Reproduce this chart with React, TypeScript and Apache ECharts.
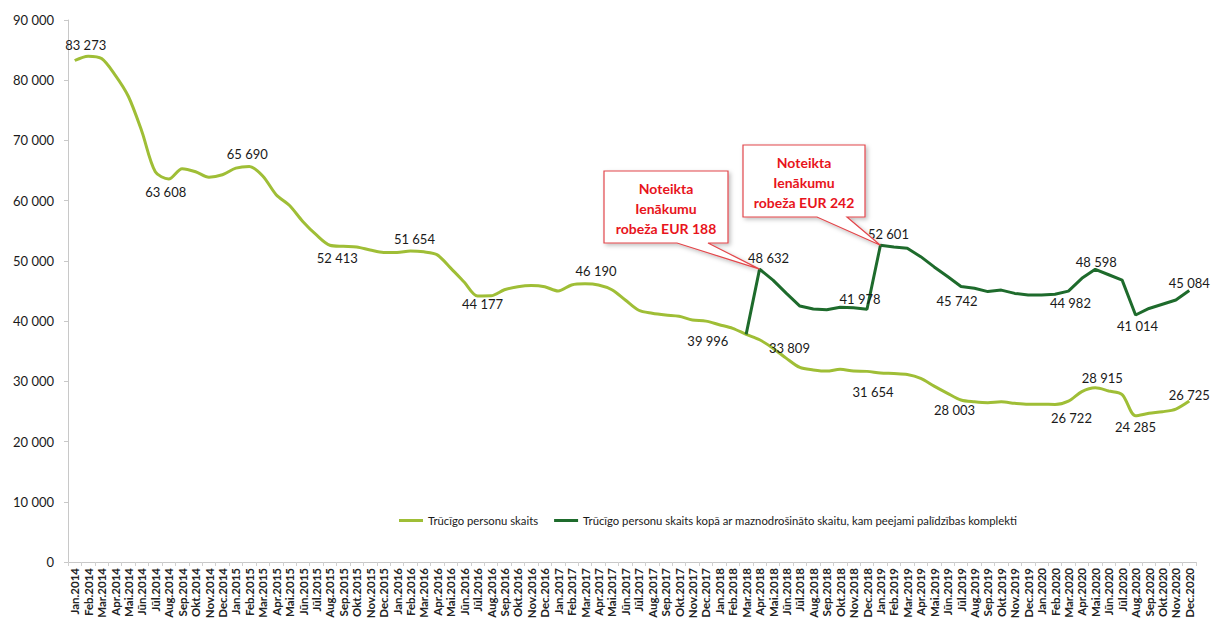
import React, { useEffect, useRef } from "react";
import * as echarts from "echarts";

const months = ["Jan", "Feb", "Mar", "Apr", "Mai", "Jūn", "Jūl", "Aug", "Sep", "Okt", "Nov", "Dec"];
const years = [2014, 2015, 2016, 2017, 2018, 2019, 2020];
const categories: string[] = years.flatMap((y) => months.map((m) => `${m}.${y}`));

const poorPersons: number[] = [
  83273, 84000, 83600, 80900, 77300, 71500, 64800, 63608, 65300, 64800, 63900, 64300,
  65400, 65690, 64100, 61000, 59200, 56500, 54300, 52600, 52413, 52300, 51800, 51400,
  51400, 51654, 51500, 51000, 48800, 46500, 44177, 44200, 45200, 45700, 45900, 45700,
  45000, 46000, 46190, 46000, 45200, 43500, 41800, 41300, 41000, 40800, 40200, 39996,
  39400, 38800, 37800, 36900, 35500, 33809, 32300, 31900, 31700, 32000, 31700, 31654,
  31400, 31300, 31150, 30500, 29200, 28003, 26900, 26600, 26450, 26600, 26350, 26200,
  26200, 26150, 26722, 28300, 28915, 28400, 27800, 24285, 24700, 24950, 25400, 26725,
];

const withLowIncome: (number | null)[] = [
  ...Array(50).fill(null),
  37800, 48632, 46800, 44600, 42500, 42000, 41900, 42300, 42200, 41978,
  52601, 52300, 52100, 50700, 49000, 47400, 45742, 45450, 44900, 45150, 44600, 44350,
  44350, 44450, 44982, 47100, 48598, 47700, 46800, 41014, 42100, 42800, 43500, 45084,
];

// [index, position, dx, dy]
const poorLabelSpots: [number, string, number, number][] = [
  [0, "top", 11, -4], [7, "bottom", -3, 2], [13, "top", -2, -1], [20, "bottom", -6, 0],
  [25, "top", 4, 0], [30, "bottom", 5, -3], [38, "top", 11, -1], [47, "bottom", 2, 8],
  [53, "top", 3, 1], [59, "bottom", 6, 9], [65, "bottom", 7, 5], [74, "bottom", 3, 5],
  [76, "top", 7, 2], [79, "bottom", 0, 0], [83, "top", 0, 5],
];
const lowIncomeLabelSpots: [number, string, number, number][] = [
  [51, "top", 9, 0], [59, "top", -7, 1], [60, "top", 8, 0], [66, "bottom", -4, 3],
  [74, "bottom", 2, 0], [76, "top", 1, 4], [79, "bottom", 2, -1], [83, "top", 0, 4],
];

const seriesNames = [
  "Trūcīgo personu skaits",
  "Trūcīgo personu skaits kopā ar maznodrošināto skaitu, kam peejami palīdzības komplekti",
];

const callouts = [
  { text: "Noteikta\nIenākumu\nrobeža EUR 188", box: [604, 171, 728, 243], base: [677, 708], index: 51 },
  { text: "Noteikta\nIenākumu\nrobeža EUR 242", box: [743, 145, 865, 217], base: [817, 847], index: 60 },
];

const fmt = (v: number) => String(Math.round(v)).replace(/\B(?=(\d{3})+(?!\d))/g, " ");
const FONT = "Lato, 'Open Sans', sans-serif";

function withLabels(values: (number | null)[], spots: [number, string, number, number][]) {
  return values.map((v, i) => {
    const s = spots.find((p) => p[0] === i);
    if (!s || v == null) return v;
    return {
      value: v,
      label: {
        show: true,
        position: s[1],
        offset: [s[2], s[3]],
        formatter: fmt(v),
        fontSize: 13,
        color: "#1a1a1a",
        fontFamily: FONT,
      },
    };
  });
}

export default function App() {
  const ref = useRef<HTMLDivElement>(null);
  useEffect(() => {
    if (!ref.current) return;
    const chart = echarts.init(ref.current, undefined, { renderer: "svg" });
    chart.setOption({
      animation: false,
      backgroundColor: "#ffffff",
      textStyle: { fontFamily: FONT },
      grid: { left: 68, right: 19, top: 20, bottom: 67 },
      legend: {
        left: 394,
        top: 510,
        icon: "rect",
        itemWidth: 24,
        itemHeight: 3,
        itemGap: 16,
        textStyle: { fontSize: 11.3, color: "#1a1a1a", fontFamily: FONT },
        data: seriesNames,
      },
      xAxis: {
        type: "category",
        data: categories,
        boundaryGap: true,
        axisLine: { lineStyle: { color: "#c8c8c8", width: 1 } },
        axisTick: { show: true, length: 4, lineStyle: { color: "#d0d0d0" } },
        axisLabel: {
          interval: 0,
          rotate: 90,
          fontSize: 11.5,
          fontWeight: "bold",
          color: "#222",
          margin: 6,
          fontFamily: FONT,
        },
      },
      yAxis: {
        type: "value",
        min: 0,
        max: 90000,
        interval: 10000,
        axisLine: { show: true, lineStyle: { color: "#c8c8c8", width: 1 } },
        axisTick: { show: true, length: 4, lineStyle: { color: "#c8c8c8" } },
        splitLine: { show: false },
        axisLabel: {
          fontSize: 13,
          color: "#1a1a1a",
          margin: 14,
          formatter: (v: number) => fmt(v),
          fontFamily: FONT,
        },
      },
      series: [
        {
          name: seriesNames[0],
          type: "line",
          symbol: "circle",
          symbolSize: 0.01,
          showSymbol: true,
          smooth: 0.3,
          data: withLabels(poorPersons, poorLabelSpots),
          lineStyle: { color: "#9fbe36", width: 3 },
          itemStyle: { color: "#9fbe36" },
          z: 2,
        },
        {
          name: seriesNames[1],
          type: "line",
          symbol: "circle",
          symbolSize: 0.01,
          showSymbol: true,
          smooth: false,
          connectNulls: false,
          data: withLabels(withLowIncome, lowIncomeLabelSpots),
          lineStyle: { color: "#1e6b2c", width: 3 },
          itemStyle: { color: "#1e6b2c" },
          z: 3,
        },
      ],
    });

    const graphics: any[] = [];
    callouts.forEach((c) => {
      const tip = chart.convertToPixel({ xAxisIndex: 0, yAxisIndex: 0 }, [c.index, withLowIncome[c.index] as number]) as number[];
      const [l, t, r, b] = c.box;
      graphics.push({
        type: "polygon",
        z: 100,
        shape: {
          points: [[l, t], [r, t], [r, b], [c.base[1], b], [tip[0], tip[1]], [c.base[0], b], [l, b]],
        },
        style: {
          fill: "#ffffff",
          stroke: "#e2474b",
          lineWidth: 1.2,
          shadowBlur: 4,
          shadowOffsetX: 2,
          shadowOffsetY: 2,
          shadowColor: "rgba(0,0,0,0.25)",
        },
      });
      graphics.push({
        type: "text",
        z: 101,
        x: (l + r) / 2,
        y: (t + b) / 2 + 1,
        style: {
          text: c.text,
          fill: "#e8141c",
          font: `bold 14px ${FONT}`,
          lineHeight: 20,
          align: "center",
          verticalAlign: "middle",
        },
      });
    });
    chart.setOption({ graphic: graphics });

    return () => chart.dispose();
  }, []);
  return <div ref={ref} style={{ position: "absolute", left: 0, top: 0, width: 1215, height: 629 }} />;
}
